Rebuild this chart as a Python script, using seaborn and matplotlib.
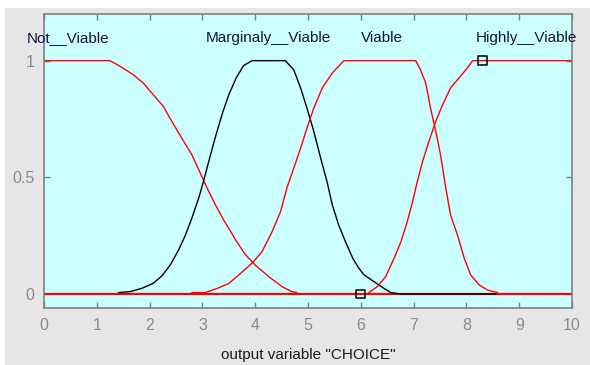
import matplotlib
matplotlib.use("Agg")
import matplotlib.pyplot as plt
import seaborn as sns
from matplotlib.patches import Rectangle

# ---- data ----
mf_names = ["Not__Viable", "Marginaly__Viable", "Viable", "Highly__Viable"]
label_x = [0.45, 4.25, 6.40, 9.13]

not_x = [0.0, 1.25, 1.44, 1.69, 1.88, 2.07, 2.26, 2.42, 2.61, 2.80, 2.96, 3.09, 3.24,
         3.40, 3.53, 3.62, 3.81, 4.00, 4.26, 4.51, 4.70, 4.79]
not_y = [1.0, 1.0, 0.976, 0.94, 0.904, 0.854, 0.804, 0.74, 0.668, 0.597, 0.518, 0.454, 0.385,
         0.318, 0.27, 0.235, 0.17, 0.124, 0.074, 0.031, 0.01, 0.006]

marg_x = [1.41, 1.63, 1.85, 2.07, 2.23, 2.39, 2.55, 2.68, 2.80, 2.93, 3.02, 3.12, 3.24,
          3.37, 3.50, 3.64, 3.78, 3.94, 4.57, 4.73, 4.86, 4.98, 5.11, 5.24, 5.36, 5.46,
          5.58, 5.71, 5.85, 5.95, 6.06, 6.25, 6.44, 6.57, 6.76, 8.56]
marg_y = [0.006, 0.01, 0.024, 0.046, 0.077, 0.124, 0.189, 0.253, 0.325, 0.411, 0.482, 0.568, 0.668,
          0.768, 0.854, 0.926, 0.979, 1.0, 1.0, 0.961, 0.883, 0.797, 0.697, 0.582, 0.482, 0.382,
          0.296, 0.224, 0.152, 0.115, 0.082, 0.053, 0.024, 0.006, 0.0, 0.0]

via_x = [2.80, 3.05, 3.28, 3.50, 3.69, 3.94, 4.13, 4.32, 4.48, 4.60, 4.73, 4.86, 4.98,
         5.11, 5.27, 5.46, 5.68, 7.04, 7.13, 7.23, 7.32, 7.42, 7.51, 7.61, 7.70, 7.83,
         7.96, 8.08, 8.24, 8.40, 8.59]
via_y = [0.006, 0.006, 0.024, 0.045, 0.082, 0.132, 0.182, 0.267, 0.353, 0.454, 0.539, 0.625, 0.711,
         0.797, 0.883, 0.947, 1.0, 1.0, 0.961, 0.904, 0.797, 0.697, 0.597, 0.454, 0.339, 0.253,
         0.153, 0.082, 0.039, 0.017, 0.006]

high_x = [6.15, 6.31, 6.47, 6.63, 6.76, 6.88, 6.98, 7.07, 7.17, 7.29, 7.42, 7.55, 7.70,
          7.83, 7.99, 8.12, 10.0]
high_y = [0.006, 0.031, 0.074, 0.153, 0.224, 0.31, 0.396, 0.482, 0.568, 0.654, 0.74, 0.811, 0.883,
          0.918, 0.961, 1.0, 1.0]

base_x = [0.0, 10.0]
base_y = [0.0, 0.0]

handle_x = [6.0, 8.3]
handle_y = [0.0, 1.0]

x_ticks = list(range(0, 11))
y_ticks = [0, 0.5, 1]
y_tick_labels = ["0", "0.5", "1"]
x_label = 'output variable "CHOICE"'

# ---- styling ----
sns.set_theme(style="ticks")
plt.rcParams["font.family"] = ["Liberation Sans", "DejaVu Sans"]

fig = plt.figure(figsize=(5.9, 3.65), dpi=100, facecolor="white")
fig.patches.append(Rectangle((5 / 590, 0), 1, 1 - 8 / 365, transform=fig.transFigure,
                             facecolor="#e6e6e6", edgecolor="none", zorder=-10))
ax = fig.add_axes([44 / 590, 1 - 308 / 365, (572 - 44) / 590, (308 - 14) / 365])
ax.set_facecolor("#ccffff")

line_kw = dict(ax=ax, sort=False, estimator=None)
sns.lineplot(x=base_x, y=base_y, color="#ff0000", lw=1.6, **line_kw)
sns.lineplot(x=not_x, y=not_y, color="#ff0000", lw=1.0, **line_kw)
sns.lineplot(x=marg_x, y=marg_y, color="black", lw=1.0, **line_kw)
sns.lineplot(x=via_x, y=via_y, color="#ff0000", lw=1.0, **line_kw)
sns.lineplot(x=high_x, y=high_y, color="#ff0000", lw=1.0, **line_kw)
sns.scatterplot(x=handle_x, y=handle_y, ax=ax, marker="s", s=40, facecolor="none",
                edgecolor="black", linewidth=1.1, zorder=5)

for name, lx in zip(mf_names, label_x):
    ax.text(lx, 1.099, name, ha="center", va="center", fontsize=11, color="#14143a")

ax.set_xlim(0, 10)
ax.set_ylim(-0.06, 1.2)
ax.set_xticks(x_ticks)
ax.set_xticklabels([str(t) for t in x_ticks])
ax.set_yticks(y_ticks)
ax.set_yticklabels(y_tick_labels)
ax.tick_params(axis="both", direction="in", length=4, width=1, colors="#808080",
               labelsize=11.5, top=True, right=True, pad=7)
ax.tick_params(axis="both", labelcolor="#8a8a8a")
for sp in ax.spines.values():
    sp.set_color("#808080")
    sp.set_linewidth(1.2)
ax.set_xlabel(x_label, fontsize=11, color="#1a1a1a", labelpad=11)
ax.set_ylabel("")

fig.savefig("out.png", dpi=100, facecolor=fig.get_facecolor())
